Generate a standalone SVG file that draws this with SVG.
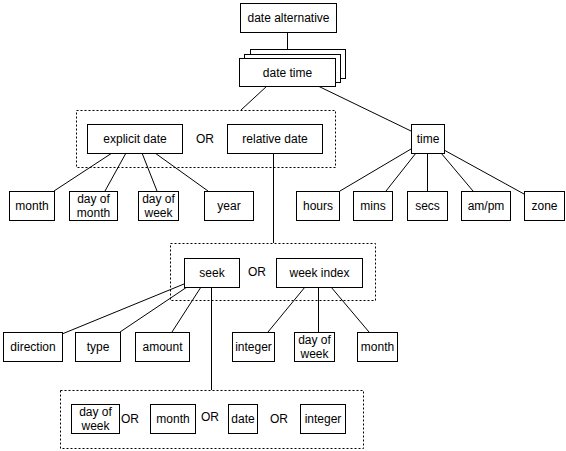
<svg xmlns="http://www.w3.org/2000/svg" width="566" height="451" viewBox="0 0 566 451">
<style>
rect.n{fill:#fff;stroke:#000;stroke-width:1}
rect.g{fill:none;stroke:#000;stroke-width:1;stroke-dasharray:2,2}
text{font-family:"Liberation Sans",Arial,Helvetica,sans-serif;font-size:12px;fill:#000;text-anchor:middle}
#connectors line{stroke:#000;stroke-width:1}
</style>
<rect width="566" height="451" fill="#fff"/>
<g id="groups">
<rect class="g" x="76.5" y="110.5" width="259" height="57"/>
<rect class="g" x="170.5" y="243.5" width="205" height="57"/>
<rect class="g" x="60.5" y="390.5" width="303" height="58"/>
<text x="205" y="143">OR</text>
<text x="257" y="276">OR</text>
<text x="130" y="423">OR</text>
<text x="210" y="421">OR</text>
<text x="279" y="423">OR</text>
</g>
<g id="connectors">
<line x1="287.5" y1="32" x2="287.5" y2="49"/>
<line x1="267" y1="86" x2="241" y2="110"/>
<line x1="318" y1="86" x2="411" y2="131"/>
<line x1="112" y1="153" x2="54" y2="191"/>
<line x1="126" y1="153" x2="105" y2="191"/>
<line x1="142" y1="153" x2="157" y2="191"/>
<line x1="155" y1="153" x2="208" y2="191"/>
<line x1="273.5" y1="153" x2="273.5" y2="243"/>
<line x1="411" y1="149" x2="340" y2="191"/>
<line x1="416" y1="153" x2="386" y2="191"/>
<line x1="427.5" y1="153" x2="427.5" y2="191"/>
<line x1="441" y1="153" x2="473" y2="191"/>
<line x1="444" y1="150" x2="524" y2="194"/>
<line x1="184" y1="284" x2="62" y2="334"/>
<line x1="187" y1="287" x2="120" y2="332"/>
<line x1="201" y1="287" x2="172" y2="332"/>
<line x1="211.5" y1="287" x2="211.5" y2="390"/>
<line x1="305" y1="287" x2="268" y2="332"/>
<line x1="318.5" y1="287" x2="318.5" y2="332"/>
<line x1="331" y1="287" x2="369" y2="332"/>
</g>
<g id="date-alternative"><rect class="n" x="240.5" y="3.5" width="96" height="29"/><text x="288.5" y="22">date alternative</text></g>
<g id="date-time">
<rect class="n" x="250.5" y="49.5" width="95" height="29"/>
<rect class="n" x="244.5" y="54.5" width="96" height="28"/>
<rect class="n" x="239.5" y="58.5" width="96" height="28"/>
<text x="287.5" y="77">date time</text>
</g>
<g id="explicit-date"><rect class="n" x="87.5" y="124.5" width="95" height="29"/><text x="135" y="143">explicit date</text></g>
<g id="relative-date"><rect class="n" x="227.5" y="124.5" width="95" height="29"/><text x="275" y="143">relative date</text></g>
<g id="time"><rect class="n" x="411.5" y="124.5" width="33" height="29"/><text x="428" y="143">time</text></g>
<g id="month1"><rect class="n" x="9.5" y="191.5" width="45" height="29"/><text x="32" y="210">month</text></g>
<g id="day-of-month"><rect class="n" x="69.5" y="191.5" width="48" height="29"/><text x="93.5" y="203">day of</text><text x="93.5" y="216.5">month</text></g>
<g id="day-of-week1"><rect class="n" x="138.5" y="191.5" width="40" height="29"/><text x="158.5" y="203">day of</text><text x="158.5" y="216.5">week</text></g>
<g id="year"><rect class="n" x="204.5" y="191.5" width="49" height="29"/><text x="229" y="210">year</text></g>
<g id="hours"><rect class="n" x="296.5" y="191.5" width="43" height="29"/><text x="318" y="210">hours</text></g>
<g id="mins"><rect class="n" x="353.5" y="191.5" width="39" height="29"/><text x="373" y="210">mins</text></g>
<g id="secs"><rect class="n" x="407.5" y="191.5" width="40" height="29"/><text x="427.5" y="210">secs</text></g>
<g id="ampm"><rect class="n" x="461.5" y="191.5" width="49" height="29"/><text x="486" y="210">am/pm</text></g>
<g id="zone"><rect class="n" x="524.5" y="191.5" width="40" height="29"/><text x="544.5" y="210">zone</text></g>
<g id="seek"><rect class="n" x="184.5" y="258.5" width="55" height="29"/><text x="212" y="277">seek</text></g>
<g id="week-index"><rect class="n" x="276.5" y="258.5" width="86" height="29"/><text x="319.5" y="277">week index</text></g>
<g id="direction"><rect class="n" x="3.5" y="332.5" width="59" height="29"/><text x="33" y="351">direction</text></g>
<g id="type"><rect class="n" x="75.5" y="332.5" width="45" height="29"/><text x="98" y="351">type</text></g>
<g id="amount"><rect class="n" x="135.5" y="332.5" width="54" height="29"/><text x="162.5" y="351">amount</text></g>
<g id="integer1"><rect class="n" x="232.5" y="332.5" width="42" height="29"/><text x="253.5" y="351">integer</text></g>
<g id="day-of-week2"><rect class="n" x="294.5" y="332.5" width="40" height="29"/><text x="314.5" y="344">day of</text><text x="314.5" y="357.5">week</text></g>
<g id="month2"><rect class="n" x="357.5" y="332.5" width="40" height="29"/><text x="377.5" y="351">month</text></g>
<g id="day-of-week3"><rect class="n" x="71.5" y="404.5" width="48" height="29"/><text x="95.5" y="416">day of</text><text x="95.5" y="429.5">week</text></g>
<g id="month3"><rect class="n" x="150.5" y="404.5" width="45" height="29"/><text x="173" y="423">month</text></g>
<g id="date"><rect class="n" x="228.5" y="404.5" width="29" height="29"/><text x="243" y="423">date</text></g>
<g id="integer2"><rect class="n" x="300.5" y="404.5" width="45" height="29"/><text x="323" y="423">integer</text></g>
</svg>
